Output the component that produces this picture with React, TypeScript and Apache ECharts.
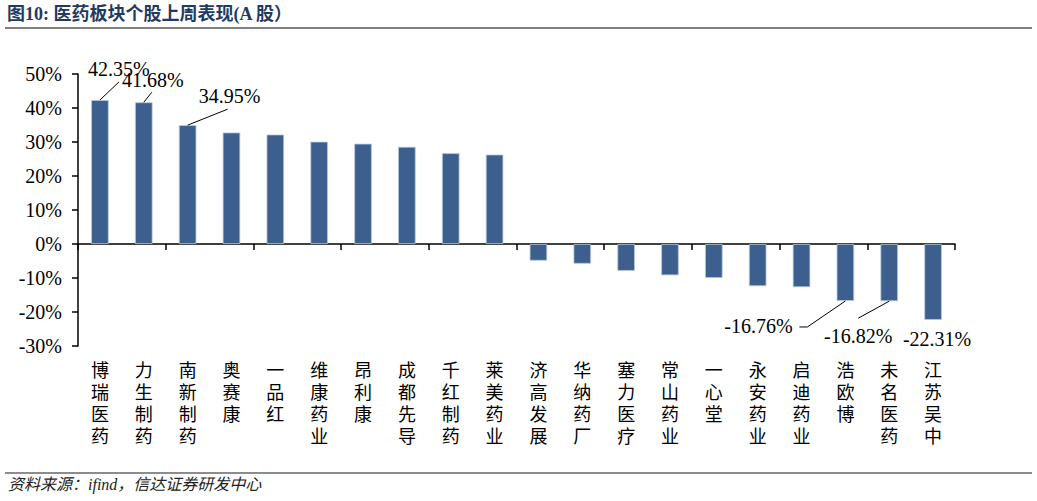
import React, { useEffect, useRef } from "react";
import * as echarts from "echarts";

const categories = [
  "博瑞医药", "力生制药", "南新制药", "奥赛康", "一品红",
  "维康药业", "昂利康", "成都先导", "千红制药", "莱美药业",
  "济高发展", "华纳药厂", "塞力医疗", "常山药业", "一心堂",
  "永安药业", "启迪药业", "浩欧博", "未名医药", "江苏吴中",
];
const values = [
  42.35, 41.68, 34.95, 32.8, 32.2, 30.1, 29.5, 28.6, 26.7, 26.3,
  -4.9, -5.8, -7.9, -9.2, -10.0, -12.4, -12.7, -16.76, -16.82, -22.31,
];
const labelledIndices = [0, 1, 2, 17, 18, 19];
const yTicks = { min: -30, max: 50, interval: 10 };

const titleText = "图10: 医药板块个股上周表现(A 股）";
const sourceText = "资料来源：ifind，信达证券研发中心";

// callout styling: leader-line bend points and label centre, relative to the bar end
const callouts: Record<number, { line: [number, number][]; text: [number, number] }> = {
  0: { line: [[19, -18]], text: [19, -31] },
  1: { line: [[8, -10]], text: [9, -22] },
  2: { line: [[40, -16]], text: [42, -29] },
  17: { line: [[-38, 26], [-46, 26]], text: [-87, 25] },
  18: { line: [[-31, 17]], text: [-31, 35] },
  19: { line: [], text: [4, 19] },
};

const SERIF = "'Liberation Serif', 'Times New Roman', 'Noto Sans CJK SC', serif";

export default function App() {
  const ref = useRef<HTMLDivElement>(null);
  useEffect(() => {
    if (!ref.current) return;
    const chart = echarts.init(ref.current, undefined, { renderer: "svg" });
    const calloutData = labelledIndices.map((i) => [i, values[i]]);
    chart.setOption({
      animation: false,
      backgroundColor: "#ffffff",
      grid: { left: 78, right: 82, top: 74, bottom: 155, containLabel: false },
      xAxis: [
        {
          type: "category",
          data: categories,
          position: "bottom",
          axisLine: { show: true, onZero: true, lineStyle: { color: "#000", width: 1.5 } },
          axisTick: { show: true, length: 6, inside: false, lineStyle: { color: "#000", width: 1.5 } },
          axisLabel: { show: false },
          splitLine: { show: false },
        },
        {
          type: "category",
          data: categories,
          position: "bottom",
          axisLine: { show: false, onZero: false },
          axisTick: { show: false },
          axisLabel: {
            show: true,
            interval: 0,
            margin: 12,
            fontSize: 18,
            lineHeight: 22,
            color: "#000",
            fontFamily: "'Noto Sans CJK SC', sans-serif",
            verticalAlign: "top",
            formatter: (v: string) => v.split("").join("\n"),
          },
          splitLine: { show: false },
        },
      ],
      yAxis: {
        type: "value",
        min: yTicks.min,
        max: yTicks.max,
        interval: yTicks.interval,
        axisLine: { show: true, lineStyle: { color: "#000", width: 1.5 } },
        axisTick: { show: true, length: 6, lineStyle: { color: "#000", width: 1.5 } },
        axisLabel: {
          formatter: (v: number) => v + "%",
          fontSize: 20,
          color: "#000",
          fontFamily: SERIF,
          margin: 16,
        },
        splitLine: { show: false },
      },
      series: [
        {
          type: "bar",
          xAxisIndex: 0,
          data: values,
          barWidth: "40%",
          itemStyle: { color: "#3C5F8D", borderColor: "#b9c9dc", borderWidth: 0.8 },
        },
        {
          type: "custom",
          xAxisIndex: 0,
          z: 5,
          data: calloutData,
          renderItem: (params: any, api: any) => {
            const idx = api.value(0);
            const val = api.value(1);
            const p = api.coord([idx, val]);
            const c = callouts[idx];
            const children: any[] = [];
            if (c.line.length) {
              children.push({
                type: "polyline",
                shape: { points: [[p[0], p[1]], ...c.line.map((d) => [p[0] + d[0], p[1] + d[1]])] },
                style: { stroke: "#000", lineWidth: 1, fill: "none" },
              });
            }
            children.push({
              type: "text",
              x: p[0] + c.text[0],
              y: p[1] + c.text[1],
              style: {
                text: val.toFixed(2) + "%",
                fontSize: 20,
                fontFamily: SERIF,
                fill: "#000",
                align: "center",
                verticalAlign: "middle",
              },
            });
            return { type: "group", children };
          },
        },
      ],
      graphic: [
        {
          type: "text",
          left: 7,
          top: 5,
          style: {
            text: titleText,
            fontSize: 18,
            fontWeight: "bold",
            fill: "#1F3A63",
            fontFamily: "'Liberation Serif', 'Noto Sans CJK SC', serif",
          },
        },
        {
          type: "line",
          shape: { x1: 5, y1: 28, x2: 1032, y2: 28 },
          style: { stroke: "#808080", lineWidth: 2 },
        },
        {
          type: "line",
          shape: { x1: 5, y1: 473, x2: 1032, y2: 473 },
          style: { stroke: "#666666", lineWidth: 1.5 },
        },
        {
          type: "text",
          left: 8,
          top: 476,
          style: {
            text: sourceText,
            fontSize: 16,
            fontStyle: "italic",
            fill: "#222",
            fontFamily: "'Liberation Serif', 'Noto Sans CJK SC', serif",
          },
        },
      ],
    });
    return () => chart.dispose();
  }, []);
  return (
    <div
      ref={ref}
      style={{ position: "fixed", left: 0, top: 0, width: 1037, height: 501, background: "#fff" }}
    />
  );
}
